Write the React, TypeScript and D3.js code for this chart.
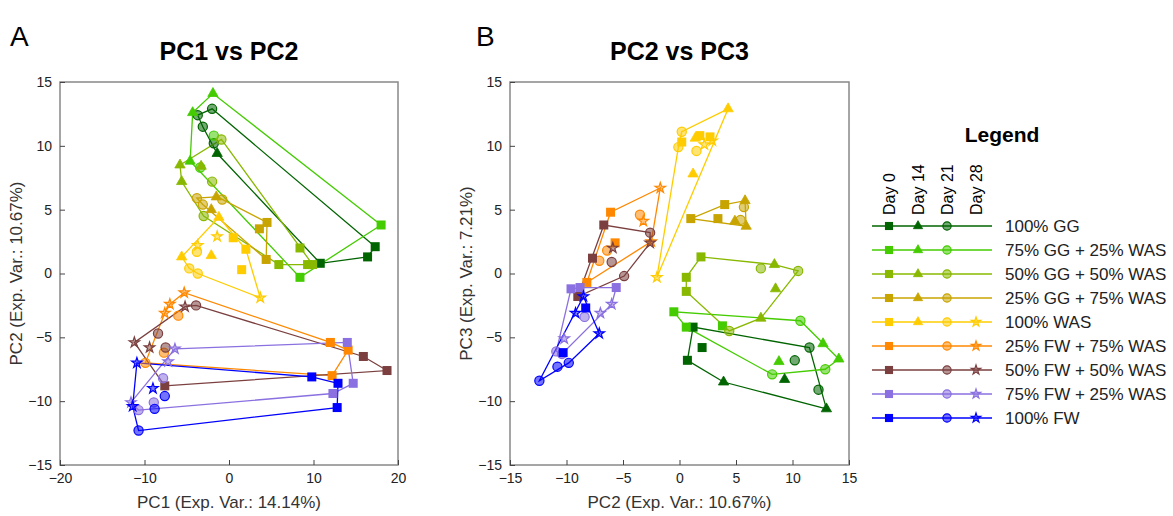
import { useRef, useEffect } from "react";
import * as d3 from "d3";

type Day = "d0" | "d14" | "d21" | "d28";
type Pt = [number, number, Day];

const groups = [
  "100% GG", "75% GG + 25% WAS", "50% GG + 50% WAS", "25% GG + 75% WAS", "100% WAS",
  "25% FW + 75% WAS", "50% FW + 50% WAS", "75% FW + 25% WAS", "100% FW",
];
const colors = ["#006400", "#44cc00", "#88b800", "#c8a400", "#ffcc00", "#ff8800", "#7b3f3f", "#8a70e0", "#0000ff"];
const legendDays: Day[][] = [
  ["d0", "d14", "d21"], ["d0", "d14", "d21"], ["d0", "d14", "d21"], ["d0", "d14", "d21"],
  ["d0", "d14", "d21", "d28"], ["d0", "d21", "d28"], ["d0", "d21", "d28"], ["d0", "d21", "d28"], ["d0", "d21", "d28"],
];
const days: Day[] = ["d0", "d14", "d21", "d28"];
const dayLabels = ["Day 0", "Day 14", "Day 21", "Day 28"];

// PC1 vs PC2
const pointsA: Pt[][] = [
  [[17.3, 2.1, "d0"], [16.4, 1.3, "d0"], [10.8, 0.8, "d0"], [-1.4, 9.4, "d14"], [-2.0, 12.9, "d21"], [-3.7, 12.4, "d21"], [-3.1, 11.5, "d21"], [-1.8, 10.2, "d21"]],
  [[18.0, 3.8, "d0"], [8.4, -0.3, "d0"], [-1.9, 14.1, "d14"], [-4.3, 12.6, "d14"], [-4.6, 8.8, "d14"], [-1.8, 10.8, "d21"], [-3.4, 8.3, "d21"]],
  [[8.4, 2.0, "d0"], [5.9, 0.7, "d0"], [9.9, 0.7, "d0"], [9.3, 0.7, "d0"], [-5.8, 8.5, "d14"], [-5.6, 7.2, "d14"], [-3.3, 8.4, "d14"], [-0.9, 10.5, "d21"], [-2.0, 7.2, "d21"], [-3.0, 4.5, "d21"]],
  [[4.5, 4.0, "d0"], [3.6, 3.5, "d0"], [4.4, 1.1, "d0"], [-1.5, 6.0, "d14"], [-2.1, 5.0, "d14"], [-3.8, 5.9, "d21"], [-3.1, 5.4, "d21"], [-0.8, 5.8, "d21"]],
  [[0.5, 2.8, "d0"], [2.0, 1.9, "d0"], [1.5, 0.3, "d0"], [-1.2, 4.4, "d14"], [-5.6, 1.3, "d14"], [-2.1, 1.4, "d14"], [-3.8, 1.7, "d21"], [-4.7, 0.4, "d21"], [-3.7, 0.0, "d21"], [-1.4, 2.9, "d28"], [-3.7, 2.2, "d28"], [3.7, -1.9, "d28"]],
  [[12.0, -5.4, "d0"], [14.1, -6.0, "d0"], [12.2, -8.0, "d0"], [-6.0, -3.3, "d21"], [-7.7, -6.2, "d21"], [-9.9, -7.0, "d21"], [-5.3, -1.5, "d28"], [-7.0, -2.4, "d28"], [-7.6, -3.1, "d28"]],
  [[15.9, -6.5, "d0"], [18.7, -7.6, "d0"], [-7.6, -8.8, "d0"], [-3.9, -2.5, "d21"], [-8.4, -4.7, "d21"], [-7.5, -5.8, "d21"], [-5.2, -2.6, "d28"], [-11.2, -5.4, "d28"], [-9.4, -5.8, "d28"]],
  [[14.0, -5.4, "d0"], [14.7, -8.6, "d0"], [12.3, -9.4, "d0"], [-7.8, -8.2, "d21"], [-8.9, -10.1, "d21"], [-10.7, -10.7, "d21"], [-6.4, -5.9, "d28"], [-7.2, -6.9, "d28"], [-11.6, -10.1, "d28"]],
  [[9.8, -8.1, "d0"], [12.9, -8.6, "d0"], [12.8, -10.5, "d0"], [-7.6, -9.6, "d21"], [-8.8, -10.6, "d21"], [-10.7, -12.3, "d21"], [-10.9, -7.0, "d28"], [-9.0, -9.0, "d28"], [-11.4, -10.4, "d28"]],
];

// PC2 vs PC3
const pointsB: Pt[][] = [
  [[1.2, -4.2, "d0"], [2.0, -5.8, "d0"], [0.7, -6.8, "d0"], [3.9, -8.5, "d14"], [9.3, -8.3, "d14"], [13.0, -10.6, "d14"], [11.5, -5.8, "d21"], [10.2, -6.8, "d21"], [12.3, -9.1, "d21"]],
  [[-0.5, -3.0, "d0"], [0.6, -4.2, "d0"], [3.8, -4.1, "d0"], [12.7, -5.5, "d14"], [14.1, -6.7, "d14"], [8.8, -6.9, "d14"], [10.7, -3.7, "d21"], [12.9, -7.5, "d21"], [8.2, -7.9, "d21"]],
  [[1.9, 1.3, "d0"], [0.6, -0.3, "d0"], [0.6, -1.4, "d0"], [8.4, 0.7, "d14"], [8.5, -1.2, "d14"], [7.2, -3.5, "d14"], [7.2, 0.4, "d21"], [10.5, 0.2, "d21"], [4.4, -4.5, "d21"]],
  [[1.0, 4.3, "d0"], [4.0, 5.4, "d0"], [3.4, 4.3, "d0"], [5.8, 5.7, "d14"], [4.9, 4.1, "d14"], [5.9, 3.7, "d14"], [5.7, 5.2, "d21"], [5.4, 4.2, "d21"]],
  [[0.2, 10.3, "d0"], [1.8, 10.8, "d0"], [2.7, 10.7, "d0"], [4.3, 12.9, "d14"], [1.4, 10.6, "d14"], [1.2, 7.8, "d14"], [0.2, 11.1, "d21"], [-0.1, 9.9, "d21"], [1.5, 9.6, "d21"], [2.2, 10.1, "d28"], [2.9, 10.4, "d28"], [-2.0, -0.3, "d28"]],
  [[-6.1, 4.8, "d0"], [-5.7, 2.4, "d0"], [-8.2, -0.7, "d0"], [-3.5, 4.6, "d21"], [-6.4, 1.8, "d21"], [-7.1, 1.0, "d21"], [-1.7, 6.7, "d28"], [-3.2, 4.1, "d28"], [-2.5, 2.5, "d28"]],
  [[-6.7, 3.8, "d0"], [-7.7, 1.2, "d0"], [-9.0, -1.8, "d0"], [-2.6, 3.2, "d21"], [-6.0, 0.9, "d21"], [-4.9, -0.2, "d21"], [-5.9, 2.0, "d28"], [-2.6, 2.4, "d28"]],
  [[-9.6, -1.2, "d0"], [-8.8, -1.1, "d0"], [-5.6, -1.1, "d0"], [-8.4, -3.4, "d21"], [-10.4, -6.3, "d21"], [-10.9, -6.1, "d21"], [-6.0, -2.4, "d28"], [-7.0, -3.1, "d28"], [-10.2, -5.1, "d28"]],
  [[-8.3, -2.7, "d0"], [-10.3, -6.2, "d0"], [-12.4, -8.4, "d21"], [-10.8, -7.3, "d21"], [-9.8, -7.0, "d21"], [-8.5, -1.8, "d28"], [-9.2, -3.1, "d28"], [-7.1, -4.7, "d28"]],
];

const FONT = "Arial, 'Liberation Sans', sans-serif";

function marker(g: d3.Selection<SVGGElement, unknown, null, undefined>, x: number, y: number, day: Day, color: string, s = 1) {
  const c = d3.color(color)!;
  if (day === "d0") {
    g.append("rect").attr("x", x - 4.5 * s).attr("y", y - 4.5 * s).attr("width", 9 * s).attr("height", 9 * s)
      .attr("fill", color);
  } else if (day === "d14") {
    const sym = d3.symbol(d3.symbolTriangle, 46 * s * s)();
    g.append("path").attr("d", sym).attr("transform", `translate(${x},${y})`).attr("fill", color).attr("stroke", color).attr("stroke-width", 0.8);
  } else if (day === "d21") {
    const f = c.copy({ opacity: 0.55 });
    g.append("circle").attr("cx", x).attr("cy", y).attr("r", 4.6 * s).attr("fill", f.formatRgb()).attr("stroke", color).attr("stroke-width", 1.2);
  } else {
    const sym = d3.symbol(d3.symbolStar, 34 * s * s)();
    g.append("path").attr("d", sym).attr("transform", `translate(${x},${y})`).attr("fill", c.copy({ opacity: 0.5 }).formatRgb()).attr("stroke", color).attr("stroke-width", 1.2);
  }
}

function panel(svg: d3.Selection<SVGSVGElement, unknown, null, undefined>, opt: {
  left: number; right: number; xDomain: [number, number]; xTicks: number[]; data: Pt[][];
  title: string; letter: string; letterX: number; xLabel: string; yLabel: string;
}) {
  const top = 82, bottom = 465;
  const x = d3.scaleLinear().domain(opt.xDomain).range([opt.left, opt.right]);
  const y = d3.scaleLinear().domain([-15, 15]).range([bottom, top]);
  const g = svg.append("g");

  g.append("rect").attr("x", opt.left).attr("y", top).attr("width", opt.right - opt.left).attr("height", bottom - top)
    .attr("fill", "white").attr("stroke", "#888").attr("stroke-width", 1.5);

  const xa = g.append("g").attr("transform", `translate(0,${bottom})`)
    .call(d3.axisBottom(x).tickValues(opt.xTicks).tickSizeInner(-5).tickSizeOuter(0).tickPadding(8));
  xa.select(".domain").remove();
  xa.selectAll("line").attr("stroke", "#444");
  xa.selectAll("text").attr("font-size", 14).attr("font-family", FONT).attr("fill", "#222");
  const ya = g.append("g").attr("transform", `translate(${opt.left},0)`)
    .call(d3.axisLeft(y).tickValues(d3.range(-15, 16, 5)).tickSizeInner(-5).tickSizeOuter(0).tickPadding(8));
  ya.select(".domain").remove();
  ya.selectAll("line").attr("stroke", "#444");
  ya.selectAll("text").attr("font-size", 14).attr("font-family", FONT).attr("fill", "#222");

  opt.data.forEach((pts, i) => {
    const hull = d3.polygonHull(pts.map((p) => [x(p[0]), y(p[1])] as [number, number]));
    if (hull) {
      g.append("path").attr("d", "M" + hull.join("L") + "Z").attr("fill", "none")
        .attr("stroke", colors[i]).attr("stroke-width", 1.3);
    }
  });
  opt.data.forEach((pts, i) => pts.forEach((p) => marker(g, x(p[0]), y(p[1]), p[2], colors[i])));

  const cx = (opt.left + opt.right) / 2;
  g.append("text").attr("x", cx).attr("y", 60).attr("text-anchor", "middle").attr("font-size", 25)
    .attr("font-weight", "bold").attr("font-family", FONT).text(opt.title);
  g.append("text").attr("x", opt.letterX).attr("y", 46).attr("font-size", 28).attr("font-family", FONT).text(opt.letter);
  g.append("text").attr("x", cx).attr("y", 508).attr("text-anchor", "middle").attr("font-size", 17)
    .attr("font-family", FONT).attr("fill", "#333").text(opt.xLabel);
  g.append("text").attr("transform", `translate(${opt.left - 38},${(top + bottom) / 2}) rotate(-90)`)
    .attr("text-anchor", "middle").attr("font-size", 17).attr("font-family", FONT).attr("fill", "#333").text(opt.yLabel);
}

export default function App() {
  const ref = useRef<SVGSVGElement>(null);
  useEffect(() => {
    const svg = d3.select(ref.current!);
    svg.selectAll("*").remove();
    panel(svg, { left: 60, right: 398, xDomain: [-20, 20], xTicks: [-20, -10, 0, 10, 20], data: pointsA,
      title: "PC1 vs PC2", letter: "A", letterX: 10, xLabel: "PC1 (Exp. Var.: 14.14%)", yLabel: "PC2 (Exp. Var.: 10.67%)" });
    panel(svg, { left: 510, right: 849, xDomain: [-15, 15], xTicks: d3.range(-15, 16, 5), data: pointsB,
      title: "PC2 vs PC3", letter: "B", letterX: 476, xLabel: "PC2 (Exp. Var.: 10.67%)", yLabel: "PC3 (Exp. Var.: 7.21%)" });

    // Legend
    const lg = svg.append("g");
    lg.append("text").attr("x", 1002).attr("y", 142).attr("text-anchor", "middle").attr("font-size", 21)
      .attr("font-weight", "bold").attr("font-family", FONT).text("Legend");
    const dx = d3.scalePoint<Day>().domain(days).range([889, 976]);
    const ry = d3.scaleBand<string>().domain(groups).range([214, 430]);
    dayLabels.forEach((t, j) => {
      lg.append("text").attr("transform", `translate(${dx(days[j])! + 6},215) rotate(-90)`)
        .attr("font-size", 16).attr("font-family", FONT).text(t);
    });
    groups.forEach((gname, i) => {
      const yy = ry(gname)! + ry.bandwidth() / 2;
      lg.append("line").attr("x1", 872).attr("x2", 992).attr("y1", yy).attr("y2", yy)
        .attr("stroke", colors[i]).attr("stroke-width", 1.5);
      legendDays[i].forEach((d) => marker(lg, dx(d)!, yy, d, colors[i], 0.9));
      lg.append("text").attr("x", 1005).attr("y", yy + 6).attr("font-size", 17).attr("font-family", FONT)
        .attr("fill", "#222").text(gname);
    });
  }, []);
  return <svg ref={ref} width={1173} height={516} style={{ display: "block", position: "absolute", left: 0, top: 0, background: "white" }} />;
}
